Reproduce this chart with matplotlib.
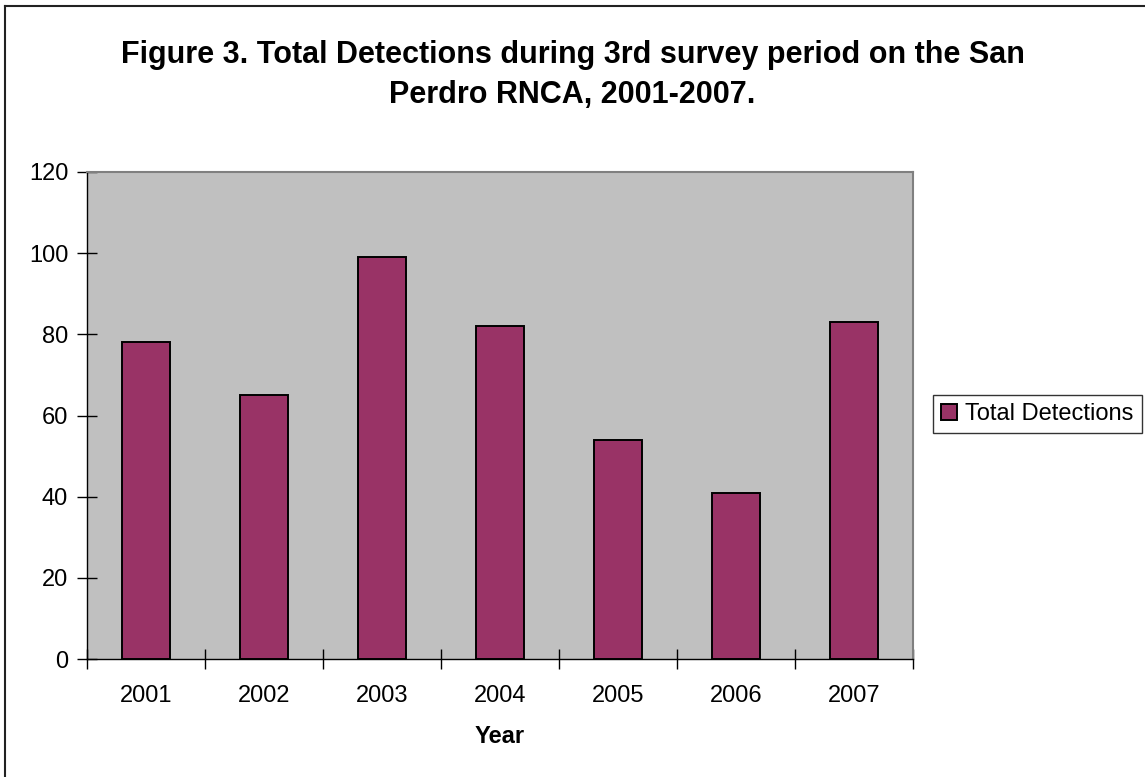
import matplotlib
matplotlib.use("Agg")
import matplotlib.pyplot as plt
from matplotlib.lines import Line2D
import numpy as np

years = ["2001", "2002", "2003", "2004", "2005", "2006", "2007"]
detections = [78, 65, 99, 82, 54, 41, 83]
y_ticks = [0, 20, 40, 60, 80, 100, 120]
series_name = "Total Detections"
title = "Figure 3. Total Detections during 3rd survey period on the San\nPerdro RNCA, 2001-2007."
x_label = "Year"

plt.rcParams['font.family'] = ['Liberation Sans', 'DejaVu Sans']

W, H = 1145, 777
fig = plt.figure(figsize=(W / 100, H / 100), dpi=100)
fig.patch.set_facecolor("white")

L, R, T, B = 87, 913, 172, 659
ax = fig.add_axes([L / W, 1 - B / H, (R - L) / W, (B - T) / H])
ax.set_facecolor("#C0C0C0")

x = np.arange(len(years))
ax.bar(x, detections, width=0.41, color="#993366", edgecolor="black",
       linewidth=1.4, label=series_name, zorder=3)

ax.set_xlim(-0.5, len(years) - 0.5)
ax.set_ylim(0, 120)
ax.set_yticks(y_ticks)
ax.set_yticklabels([str(v) for v in y_ticks], fontsize=17)
ax.set_xticks(x)
ax.set_xticklabels(years, fontsize=17)
ax.set_xticks(np.arange(len(years) + 1) - 0.5, minor=True)
ax.tick_params(axis="x", which="major", length=0, pad=19)
ax.tick_params(axis="x", which="minor", direction="inout", length=15, width=1, color="black")
ax.tick_params(axis="y", which="major", direction="inout", length=15, width=1, pad=6, color="black")

for s in ["left", "bottom"]:
    ax.spines[s].set_color("black")
    ax.spines[s].set_linewidth(1)
for s in ["top", "right"]:
    ax.spines[s].set_color("#808080")
    ax.spines[s].set_linewidth(1.5)

ax.set_xlabel(x_label, fontsize=17, fontweight="bold", labelpad=13)

fig.text(0.5, 1 - 75 / H, title, ha="center", va="center", fontsize=22,
         fontweight="bold", linespacing=1.42)

leg = ax.legend(loc="center left", bbox_to_anchor=(933 / W, 1 - 414 / H),
                bbox_transform=fig.transFigure, fontsize=17, frameon=True,
                fancybox=False, edgecolor="black", handlelength=0.65,
                handleheight=0.65, handletextpad=0.35, borderpad=0.35,
                borderaxespad=0)
leg.get_frame().set_linewidth(1)

# outer chart border (extends beyond image on right and bottom)
fig.add_artist(Line2D([5 / W, 5 / W], [1 - 6 / H, 0], transform=fig.transFigure,
                      color="#222222", linewidth=1.5))
fig.add_artist(Line2D([5 / W, 1], [1 - 6 / H, 1 - 6 / H], transform=fig.transFigure,
                      color="#222222", linewidth=1.5))

fig.savefig("out.png", dpi=100)
